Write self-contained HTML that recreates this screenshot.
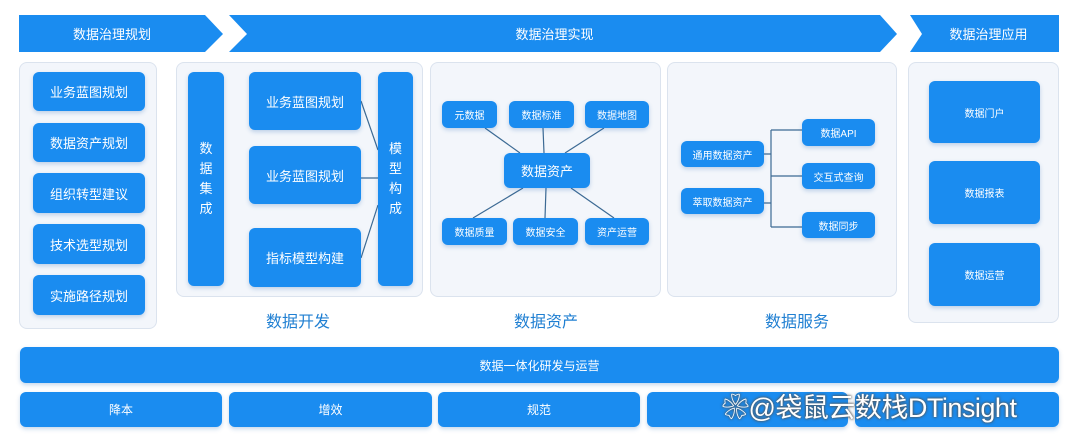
<!DOCTYPE html>
<html><head><meta charset="utf-8"><style>
*{margin:0;padding:0;box-sizing:border-box}
body{width:1080px;height:443px;background:#fff;position:relative;overflow:hidden;font-family:"Liberation Sans","Noto Sans CJK SC",sans-serif}
.a{position:absolute}
.p{position:absolute;background:#f3f6fb;border:1px solid #dbe3ee;border-radius:8px}
.b{position:absolute;background:#1a8cf0;color:#fff;border-radius:6px;display:flex;align-items:center;justify-content:center;text-align:center;box-shadow:0 2px 4px rgba(30,100,180,.25)}
.lbl{position:absolute;color:#1f7fd2;font-size:16px;transform:translateX(-50%)}
</style></head><body>
<svg class="a" style="left:0;top:0" width="1080" height="443">
<polygon points="19,15 205,15 223,34 205,52 19,52" fill="#1a8cf0"/>
<polygon points="229,15 880,15 897,34 880,52 229,52 247,34" fill="#1a8cf0"/>
<polygon points="910,15 1059,15 1059,52 910,52 922,34" fill="#1a8cf0"/>
</svg>
<div class="a" style="left:19px;top:15px;width:186px;height:37px;color:#fff;font-size:13px;display:flex;align-items:center;justify-content:center">数据治理规划</div>
<div class="a" style="left:229px;top:15px;width:651px;height:37px;color:#fff;font-size:13px;display:flex;align-items:center;justify-content:center">数据治理实现</div>
<div class="a" style="left:918px;top:15px;width:141px;height:37px;color:#fff;font-size:13px;display:flex;align-items:center;justify-content:center">数据治理应用</div>

<div class="p" style="left:19px;top:62px;width:138px;height:267px"></div>
<div class="b" style="left:33px;top:72px;width:112px;height:39px;font-size:13px">业务蓝图规划</div>
<div class="b" style="left:33px;top:123px;width:112px;height:39px;font-size:13px">数据资产规划</div>
<div class="b" style="left:33px;top:173px;width:112px;height:40px;font-size:13px">组织转型建议</div>
<div class="b" style="left:33px;top:224px;width:112px;height:40px;font-size:13px">技术选型规划</div>
<div class="b" style="left:33px;top:275px;width:112px;height:40px;font-size:13px">实施路径规划</div>

<div class="p" style="left:176px;top:62px;width:247px;height:235px"></div>
<div class="p" style="left:430px;top:62px;width:231px;height:235px"></div>
<div class="p" style="left:667px;top:62px;width:230px;height:235px"></div>
<div class="p" style="left:908px;top:62px;width:151px;height:261px"></div>

<svg class="a" style="left:0;top:0" width="1080" height="443">
<g stroke="#3c6a94" stroke-width="1.2" fill="none">
<line x1="361" y1="101" x2="378" y2="150"/>
<line x1="361" y1="178" x2="378" y2="178"/>
<line x1="361" y1="258" x2="378" y2="205"/>
<line x1="485" y1="128" x2="520" y2="153"/>
<line x1="543" y1="128" x2="544" y2="153"/>
<line x1="604" y1="128" x2="565" y2="153"/>
<line x1="523" y1="188" x2="473" y2="218"/>
<line x1="546" y1="188" x2="545" y2="218"/>
<line x1="571" y1="188" x2="614" y2="218"/>
<path d="M764,154 H771 M764,203 H771 M771,130 V227 M771,130 H802 M771,176 H802 M771,227 H802"/>
</g></svg>

<div class="b" style="left:188px;top:72px;width:36px;height:214px;font-size:13px;line-height:20px">数<br>据<br>集<br>成</div>
<div class="b" style="left:249px;top:72px;width:112px;height:58px;font-size:13px">业务蓝图规划</div>
<div class="b" style="left:249px;top:146px;width:112px;height:58px;font-size:13px">业务蓝图规划</div>
<div class="b" style="left:249px;top:228px;width:112px;height:59px;font-size:13px">指标模型构建</div>
<div class="b" style="left:378px;top:72px;width:35px;height:214px;font-size:13px;line-height:20px">模<br>型<br>构<br>成</div>
<div class="lbl" style="left:298px;top:308px">数据开发</div>

<div class="b" style="left:442px;top:101px;width:55px;height:27px;font-size:10px">元数据</div>
<div class="b" style="left:509px;top:101px;width:65px;height:27px;font-size:10px">数据标准</div>
<div class="b" style="left:585px;top:101px;width:64px;height:27px;font-size:10px">数据地图</div>
<div class="b" style="left:504px;top:153px;width:86px;height:35px;font-size:13px">数据资产</div>
<div class="b" style="left:442px;top:218px;width:65px;height:27px;font-size:10px">数据质量</div>
<div class="b" style="left:513px;top:218px;width:65px;height:27px;font-size:10px">数据安全</div>
<div class="b" style="left:585px;top:218px;width:64px;height:27px;font-size:10px">资产运营</div>
<div class="lbl" style="left:546px;top:308px">数据资产</div>

<div class="b" style="left:681px;top:141px;width:83px;height:26px;font-size:10px">通用数据资产</div>
<div class="b" style="left:681px;top:188px;width:83px;height:26px;font-size:10px">萃取数据资产</div>
<div class="b" style="left:802px;top:119px;width:73px;height:27px;font-size:10px">数据API</div>
<div class="b" style="left:802px;top:163px;width:73px;height:26px;font-size:10px">交互式查询</div>
<div class="b" style="left:802px;top:212px;width:73px;height:26px;font-size:10px">数据同步</div>
<div class="lbl" style="left:797px;top:308px">数据服务</div>

<div class="b" style="left:929px;top:81px;width:111px;height:62px;font-size:10px">数据门户</div>
<div class="b" style="left:929px;top:161px;width:111px;height:63px;font-size:10px">数据报表</div>
<div class="b" style="left:929px;top:243px;width:111px;height:63px;font-size:10px">数据运营</div>

<div class="b" style="left:20px;top:347px;width:1039px;height:36px;font-size:12px">数据一体化研发与运营</div>
<div class="b" style="left:20px;top:392px;width:202px;height:35px;font-size:12px">降本</div>
<div class="b" style="left:229px;top:392px;width:203px;height:35px;font-size:12px">增效</div>
<div class="b" style="left:438px;top:392px;width:202px;height:35px;font-size:12px">规范</div>
<div class="b" style="left:647px;top:392px;width:201px;height:35px;font-size:12px"></div>
<div class="b" style="left:855px;top:392px;width:204px;height:35px;font-size:12px"></div>
<div class="a" style="left:722px;top:386px;font-size:27px;letter-spacing:-0.5px;color:#fff;white-space:nowrap;text-shadow:0 0 2px #555,0 0 3px #555">❀@袋鼠云数栈DTinsight</div>
</body></html>
